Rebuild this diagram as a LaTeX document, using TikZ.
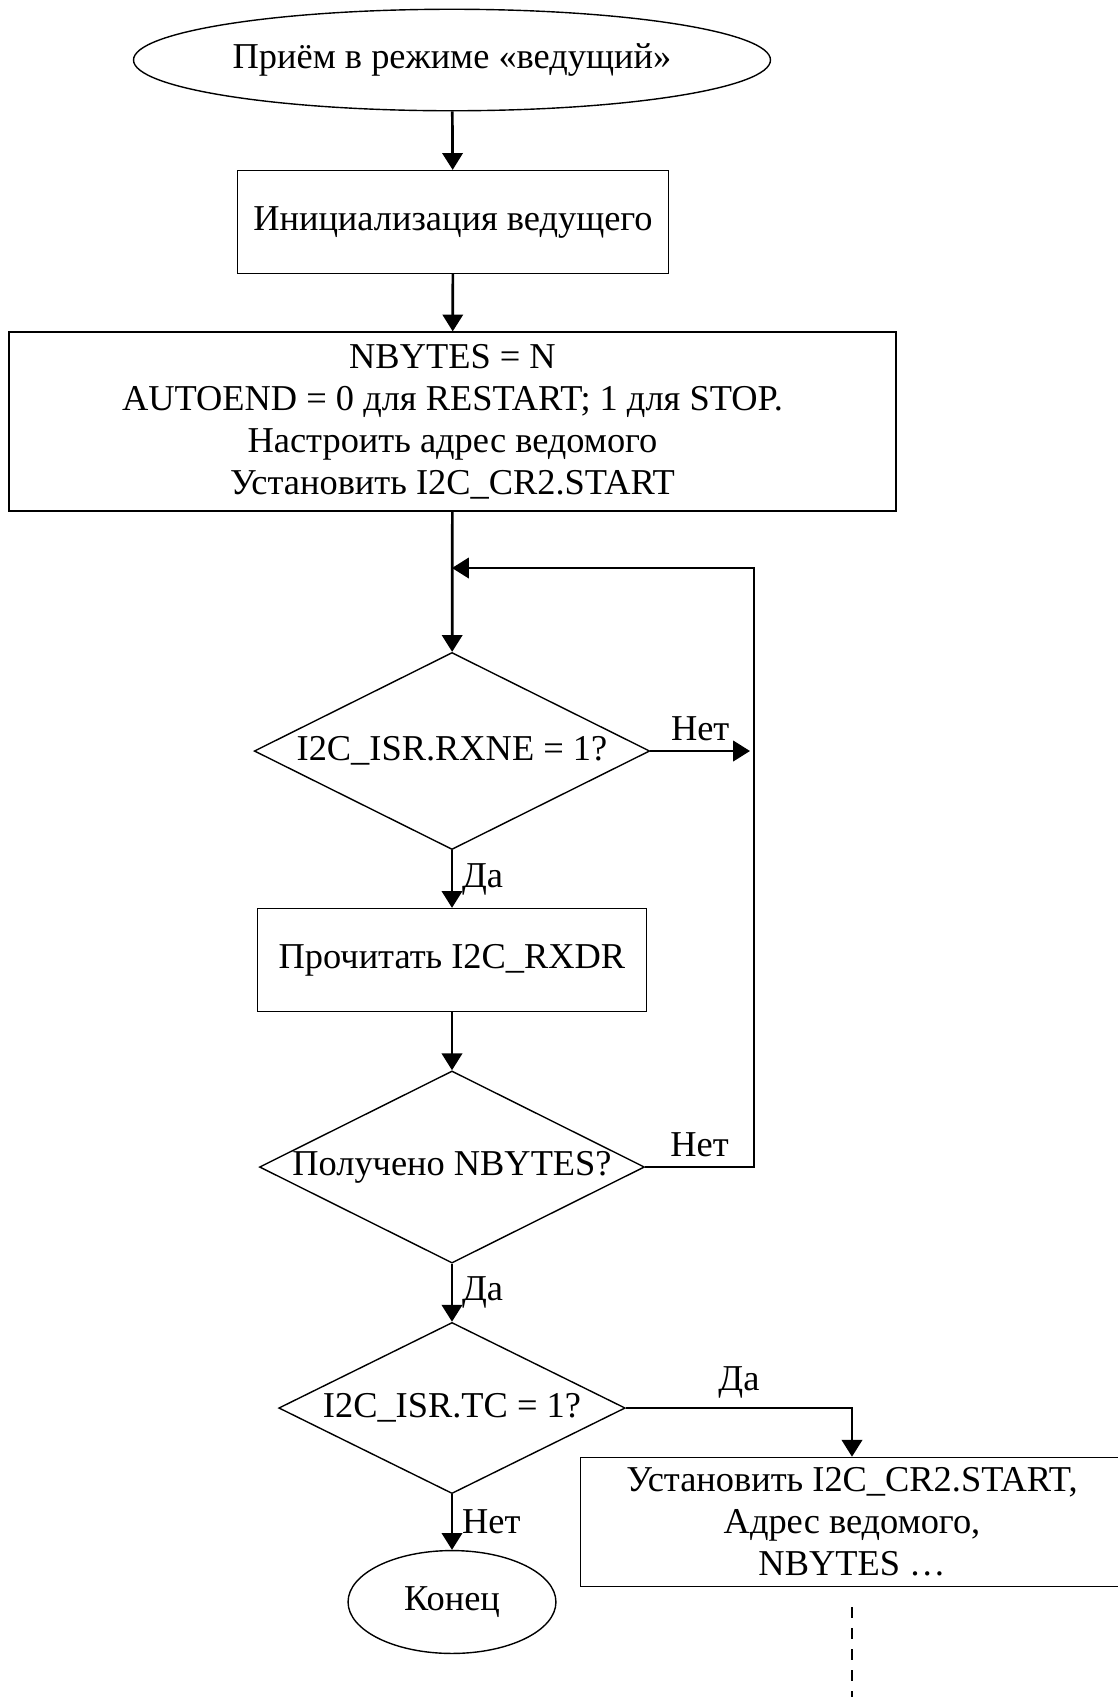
\documentclass[tikz,border=0pt]{standalone}
\usepackage{fontspec}
\IfFontExistsTF{CMU Serif}{\setmainfont{CMU Serif}}{%
  \IfFontExistsTF{cmunrm.otf}{\setmainfont{cmunrm.otf}}{\setmainfont{Liberation Serif}[Scale=1.04]}}
\usetikzlibrary{shapes.geometric,arrows.meta}
\begin{document}
\begin{tikzpicture}[x=0.285714pt,y=-0.285714pt,
  box/.style={draw, rectangle, inner sep=0pt, align=center},
  term/.style={draw, ellipse, inner sep=0pt},
  dec/.style={draw, diamond, shape aspect=2, inner sep=0pt},
  conn/.style={line width=0.77pt, -{Triangle[length=4.8pt,width=5.8pt]}},
  lbl/.style={inner sep=2.5pt}]
\useasboundingbox (0,0) rectangle (1118,1697);
\clip (0,0) rectangle (1118,1697);

\node[term, minimum width=182pt, minimum height=29pt] (start) at (452,60) {Приём в режиме «ведущий»};
\node[box, minimum width=123pt, minimum height=29.4pt] (init) at (453,222) {Инициализация ведущего};
\node[box, minimum width=253.4pt, minimum height=51.1pt] (cfg) at (452.5,421.5)
  {NBYTES = N\\AUTOEND = 0 для RESTART; 1 для STOP.\\Настроить адрес ведомого\\Установить I2C\_CR2.START};
\node[dec, minimum width=113pt, minimum height=56.3pt] (rxne) at (452,751) {I2C\_ISR.RXNE = 1?};
\node[box, minimum width=111pt, minimum height=29.4pt] (read) at (452,960) {Прочитать I2C\_RXDR};
\node[dec, minimum width=110pt, minimum height=54.9pt] (nb) at (452,1167) {Получено NBYTES?};
\node[dec, minimum width=99pt, minimum height=48.9pt] (tc) at (452,1408) {I2C\_ISR.TC = 1?};
\node[box, minimum width=155pt, minimum height=36.9pt] (restart) at (852,1522)
  {Установить I2C\_CR2.START,\\Адрес ведомого,\\NBYTES \dots};
\node[term, minimum width=59.4pt, minimum height=29.4pt] (end) at (452,1602) {Конец};

\coordinate (rt1) at (754,568);
\coordinate (rt2) at (754,1167);
\coordinate (lp) at (452,568);
\coordinate (rxend) at (750,751);
\coordinate (d1) at (852,1607);
\coordinate (d2) at (852,1700);

\draw[conn] (start) -- (init);
\draw[conn] (init) -- (cfg);
\draw[conn] (cfg) -- (rxne);
\draw[conn] (rxne) -- node[right, lbl]{Да} (read);
\draw[conn] (read) -- (nb);
\draw[conn] (nb) -- node[right, lbl]{Да} (tc);
\draw[conn] (tc) -- node[right, lbl]{Нет} (end);
\draw[conn] (rxne.east) -- node[above, lbl]{Нет} (rxend);
\draw[conn] (nb.east) -- node[above, lbl]{Нет} (rt2) -- (rt1) -- (lp);
\draw[conn] (tc.east) -- node[above, lbl]{Да} (tc.east -| restart.north) -- (restart.north);
\draw[dashed] (d1) -- (d2);
\end{tikzpicture}
\end{document}
